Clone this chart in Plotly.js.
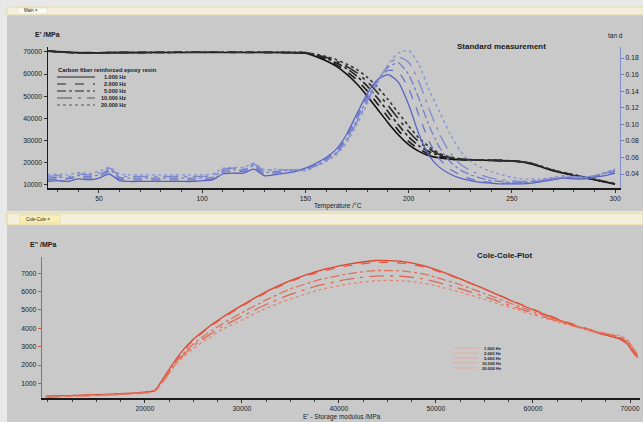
<!DOCTYPE html>
<html>
<head>
<meta charset="utf-8">
<script src="https://cdn.plot.ly/plotly-3.0.1.min.js"></script>
<style>html,body{margin:0;padding:0;background:#e8e8e8;}#chart{width:643px;height:422px;}</style>
</head>
<body>
<div id="chart"></div>
<script>
// ---------- DATA ----------
const freqLabels = ["1.000 Hz", "2.000 Hz", "5.000 Hz", "10.000 Hz", "20.000 Hz"];
const temperature = [25,30,35,40,45,50,55,60,65,70,75,80,85,90,95,100,105,110,115,120,125,130,135,140,145,
  150,155,160,165,170,175,180,185,190,195,200,205,210,215,220,225,230,235,240,245,250,255,260,265,270,275,280,285,290,295,300];

// storage modulus E' /MPa
const storage1Hz = [70600,70200,69900,69700,69600,69600,69700,69700,69700,69700,69800,69800,69800,69800,69800,69800,69800,69800,69800,69800,69800,69800,69800,69700,69600,
  69500,68000,66000,63500,60000,55500,50000,44000,38000,32500,28000,25000,23000,22000,21500,
  21200,21100,21000,20900,20800,20600,20200,19200,17700,16200,15100,14100,13100,12100,11100,10100];
const storage2Hz = [70500,70100,69900,69700,69700,69700,69800,69800,69800,69800,69800,69800,69900,69900,69900,69900,69900,69900,69800,69800,69800,69800,69800,69800,69700,
  69600,68400,66600,64300,61200,57300,52300,46500,40500,34500,29500,26000,23800,22400,21700,
  21300,21100,21000,20900,20800,20600,20200,19300,17800,16300,15200,14200,13200,12200,11200,10200];
const storage5Hz = [70500,70100,69800,69600,69600,69600,69700,69800,69800,69800,69800,69900,69900,69900,69900,69900,69900,69900,69900,69900,69900,69800,69800,69800,69700,
  69700,68600,67100,65100,62500,59000,54500,49000,43000,37000,31500,27500,24800,23000,22000,
  21400,21200,21000,20900,20800,20600,20300,19400,17900,16400,15300,14300,13300,12300,11300,10300];
const storage10Hz = [70400,70000,69800,69600,69500,69600,69700,69700,69800,69800,69800,69800,69800,69900,69900,69900,69900,69900,69900,69900,69900,69900,69800,69800,69800,
  69700,68800,67600,65800,63500,60500,56500,51500,45800,39800,34000,29300,26000,23600,22300,
  21500,21200,21100,21000,20800,20600,20300,19400,17900,16400,15300,14300,13300,12300,11300,10300];
const storage20Hz = [70400,70000,69700,69500,69500,69500,69600,69700,69700,69800,69800,69800,69800,69800,69900,69900,69900,69900,69900,69900,69900,69900,69900,69800,69800,
  69800,69000,68000,66500,64500,62000,58500,54000,48500,42500,36500,31000,27000,24000,22500,
  21600,21300,21100,21000,20900,20700,20300,19500,18000,16500,15400,14400,13400,12400,11400,10400];

// loss factor tan d
const tanD1Hz = [.031,.032,.031,.034,.033,.035,.040,.032,.031,.031,.031,.031,.031,.031,.031,.032,.033,.040,.041,.041,.046,.038,.039,.041,.043,
  .047,.053,.060,.070,.088,.113,.137,.154,.160,.151,.124,.088,.062,.048,.040,.035,.032,.030,.029,.028,.028,.028,.029,
  .031,.033,.035,.034,.034,.036,.038,.041];
const tanD2Hz = [.033,.034,.034,.036,.035,.037,.043,.034,.033,.033,.033,.033,.033,.033,.033,.033,.034,.042,.043,.043,.048,.040,.041,.043,.044,
  .046,.052,.058,.068,.085,.109,.134,.154,.165,.163,.143,.111,.079,.058,.046,.039,.034,.031,.030,.029,.029,.029,.030,
  .032,.034,.036,.035,.035,.037,.040,.043];
const tanD5Hz = [.035,.036,.035,.038,.037,.039,.045,.036,.035,.035,.035,.035,.035,.035,.035,.035,.036,.044,.045,.045,.050,.042,.043,.044,.045,
  .045,.051,.057,.066,.082,.106,.131,.153,.169,.174,.160,.131,.098,.072,.055,.045,.039,.035,.032,.031,.030,.030,.031,
  .032,.034,.036,.036,.036,.038,.041,.044];
const tanD10Hz = [.037,.038,.037,.040,.039,.041,.047,.038,.037,.037,.037,.037,.037,.037,.037,.037,.038,.046,.047,.047,.052,.044,.045,.045,.045,
  .044,.050,.056,.065,.080,.103,.128,.152,.171,.181,.175,.151,.118,.088,.066,.052,.044,.039,.035,.033,.032,.031,.032,
  .033,.035,.037,.037,.036,.038,.041,.045];
const tanD20Hz = [.039,.040,.039,.042,.041,.043,.048,.040,.039,.039,.039,.039,.039,.039,.039,.039,.040,.047,.048,.048,.053,.045,.046,.045,.044,
  .044,.049,.055,.063,.078,.100,.125,.150,.172,.186,.189,.172,.141,.115,.089,.068,.055,.048,.043,.039,.036,.034,.034,
  .034,.036,.038,.037,.036,.038,.042,.046];

// Cole-Cole: E' (storage) vs E'' (loss) /MPa
const coleStorage = [9800,12000,15000,18000,20000,21000,22000,23000,24000,25000,26500,28000,30000,32500,35000,38000,41000,43800,46500,48500,50000,52500,55000,58000,61000,64000,67000,69000,69700,70300,70800];
const coleLoss1Hz = [300,330,380,450,520,600,1350,2150,2850,3400,4050,4600,5250,6000,6600,7150,7500,7700,7650,7450,7200,6700,6150,5450,4800,4200,3700,3400,3150,2700,2400];
const coleLoss2Hz = [280,310,360,430,500,580,1300,2100,2800,3350,4000,4550,5200,5950,6550,7080,7420,7600,7560,7380,7150,6680,6150,5480,4830,4250,3760,3470,3250,2800,2450];
const coleLoss5Hz = [260,300,350,420,490,570,1250,2000,2650,3150,3750,4250,4850,5550,6150,6650,6980,7150,7130,6980,6780,6380,5900,5300,4720,4180,3750,3500,3300,2850,2500];
const coleLoss10Hz = [250,290,340,410,480,560,1200,1950,2550,3050,3600,4100,4650,5300,5850,6350,6680,6850,6840,6710,6530,6170,5730,5180,4640,4150,3760,3540,3350,2900,2550];
const coleLoss20Hz = [240,280,330,400,470,550,1150,1900,2450,2900,3450,3950,4450,5100,5600,6100,6420,6600,6600,6480,6320,5980,5580,5080,4580,4130,3780,3580,3400,2950,2600];

const tempTicks = [50,100,150,200,250,300];
const storageTicks = [10000,20000,30000,40000,50000,60000,70000];
const tanTicks = [0.04,0.06,0.08,0.10,0.12,0.14,0.16,0.18];
const coleXTicks = [20000,30000,40000,50000,60000,70000];
const coleYTicks = [1000,2000,3000,4000,5000,6000,7000];

// ---------- STYLE ----------
const W = 643, H = 422;
const px = v => v / W, py = v => 1 - v / H;
const dashes = ["solid", "dash", "dashdot", "longdashdot", "dot"];
const blackCols = ["#111111", "#1a1a1a", "#222222", "#2a2a2a", "#333333"];
const blueCols = ["#5563c0", "#6a76c8", "#7480cc", "#7d88cf", "#8892d4"];
const redCols = ["#e0442c", "#e25a44", "#e0705c", "#dd6a55", "#e58472"];
const FONT = "Liberation Sans, Arial, sans-serif";

const storageSeries = [storage1Hz, storage2Hz, storage5Hz, storage10Hz, storage20Hz];
const tanSeries = [tanD1Hz, tanD2Hz, tanD5Hz, tanD10Hz, tanD20Hz];
const coleSeries = [coleLoss1Hz, coleLoss2Hz, coleLoss5Hz, coleLoss10Hz, coleLoss20Hz];

const traces = [];
tanSeries.forEach((s, i) => traces.push({
  x: temperature, y: s, xaxis: "x", yaxis: "y2", mode: "lines", name: freqLabels[i],
  line: {color: blueCols[i], width: 1.3, dash: dashes[i], shape: "spline", smoothing: 0.6}
}));
storageSeries.forEach((s, i) => traces.push({
  x: temperature, y: s, xaxis: "x", yaxis: "y", mode: "lines", name: freqLabels[i],
  line: {color: blackCols[i], width: 1.6, dash: dashes[i], shape: "spline", smoothing: 0.6}
}));
coleSeries.forEach((s, i) => traces.push({
  x: coleStorage, y: s, xaxis: "x2", yaxis: "y3", mode: "lines", name: freqLabels[i],
  line: {color: redCols[i], width: 1.3, dash: dashes[i], shape: "spline", smoothing: 0.5}
}));

const tickFont = {family: FONT, size: 6.8, color: "#222"};
const baseAxis = {
  showgrid: false, zeroline: false, showline: true, linecolor: "#1a1a1a", linewidth: 1.5,
  ticks: "outside", ticklen: 3, tickwidth: 1, tickcolor: "#333", tickfont: tickFont, fixedrange: true
};

const shapes = [
  // panels
  {type: "rect", xref: "paper", yref: "paper", x0: px(7), x1: 1, y0: py(211), y1: py(15), fillcolor: "#c9c9c9", line: {width: 0}, layer: "below"},
  {type: "rect", xref: "paper", yref: "paper", x0: px(7), x1: 1, y0: 0, y1: py(225), fillcolor: "#c9c9c9", line: {width: 0}, layer: "below"},
  // tab bars
  {type: "rect", xref: "paper", yref: "paper", x0: px(7), x1: 1, y0: py(15), y1: py(7), fillcolor: "#f3efdc", line: {color: "#e6dca8", width: 1}, layer: "below"},
  {type: "rect", xref: "paper", yref: "paper", x0: px(7), x1: 1, y0: py(225), y1: py(213), fillcolor: "#f3efdc", line: {color: "#e2d48e", width: 1}, layer: "below"},
  {type: "rect", xref: "paper", yref: "paper", x0: px(18), x1: px(47), y0: py(14), y1: py(8), fillcolor: "#fbfaf3", line: {color: "#d8d2b8", width: 0.5}, layer: "below"},
  {type: "rect", xref: "paper", yref: "paper", x0: px(20), x1: px(60), y0: py(223), y1: py(215), fillcolor: "#f7eeb8", line: {color: "#d8c880", width: 0.5}, layer: "below"}
];

const annotations = [];
function txt(text, x, y, size, opts) {
  annotations.push(Object.assign({
    text: text, xref: "paper", yref: "paper", x: px(x), y: py(y), showarrow: false,
    xanchor: "left", yanchor: "middle", font: {family: FONT, size: size, color: "#1a1a1a"}
  }, opts || {}));
}
txt("Main ×", 22, 11, 4.5);
txt("Cole-Cole ×", 24, 219, 4.5);
txt("<b>E' /MPa</b>", 33, 34, 7);
txt("tan d", 615, 35, 6.5, {xanchor: "center"});
txt("<b>Standard measurement</b>", 502, 46, 8, {xanchor: "center"});
txt("Temperature /°C", 338, 206, 6.5, {xanchor: "center"});
txt("<b>E'' /MPa</b>", 28, 244, 7);
txt("<b>Cole-Cole-Plot</b>", 504, 255, 8, {xanchor: "center"});
txt("E' - Storage modulus /MPa", 342, 416.5, 6.5, {xanchor: "center"});

// legend of the standard measurement
txt("<b>Carbon fiber reinforced epoxy resin</b>", 56, 70, 5.8);
const legRows = [77, 84, 91, 98, 105];
freqLabels.forEach((lab, i) => {
  shapes.push({type: "line", xref: "paper", yref: "paper", x0: px(57), x1: px(95), y0: py(legRows[i]), y1: py(legRows[i]),
    line: {color: i < 3 ? "#222" : "#555", width: 1, dash: dashes[i]}});
  txt("<b>" + lab + "</b>", 128, legRows[i], 5.5, {xanchor: "right"});
});
// legend of the Cole-Cole plot
const coleRows = [348, 353, 358, 363, 368];
freqLabels.forEach((lab, i) => {
  shapes.push({type: "line", xref: "paper", yref: "paper", x0: px(453), x1: px(478), y0: py(coleRows[i]), y1: py(coleRows[i]),
    line: {color: "#e7aaa0", width: 1}});
  txt("<b>" + lab + "</b>", 503, coleRows[i], 4.2, {xanchor: "right"});
});

const layout = {
  width: W, height: H, margin: {l: 0, r: 0, t: 0, b: 0},
  paper_bgcolor: "#e8e8e8", plot_bgcolor: "rgba(0,0,0,0)", showlegend: false,
  xaxis: Object.assign({}, baseAxis, {domain: [px(48), px(620)], range: [25.3, 302.4], anchor: "y",
    tickmode: "array", tickvals: tempTicks, ticklabelstandoff: 0, minor: {ticks: "outside", dtick: 10, tick0: 0, ticklen: 2, tickcolor: "#444"}}),
  yaxis: Object.assign({}, baseAxis, {domain: [py(188), py(47)], range: [8400, 72260], anchor: "x",
    tickmode: "array", tickvals: storageTicks, tickformat: "d"}),
  yaxis2: Object.assign({}, baseAxis, {overlaying: "y", side: "right", anchor: "x", range: [0.0231, 0.1933],
    tickmode: "array", tickvals: tanTicks, tickformat: ".2f", linecolor: "#8390cc", linewidth: 1.2, tickcolor: "#6f7cc0"}),
  xaxis2: Object.assign({}, baseAxis, {domain: [px(42), px(640)], range: [9400, 71030], anchor: "y3",
    tickmode: "array", tickvals: coleXTicks, tickformat: "d", ticklabelstandoff: 0, minor: {ticks: "outside", dtick: 2500, tick0: 0, ticklen: 2, tickcolor: "#444"}}),
  yaxis3: Object.assign({}, baseAxis, {domain: [py(398), py(257)], range: [200, 7890], anchor: "x2",
    tickmode: "array", tickvals: coleYTicks, tickformat: "d", linecolor: "#d4553a", linewidth: 1.3, tickcolor: "#c8553e"}),
  shapes: shapes, annotations: annotations
};

Plotly.newPlot("chart", traces, layout, {displayModeBar: false, staticPlot: true});
</script>
</body>
</html>
